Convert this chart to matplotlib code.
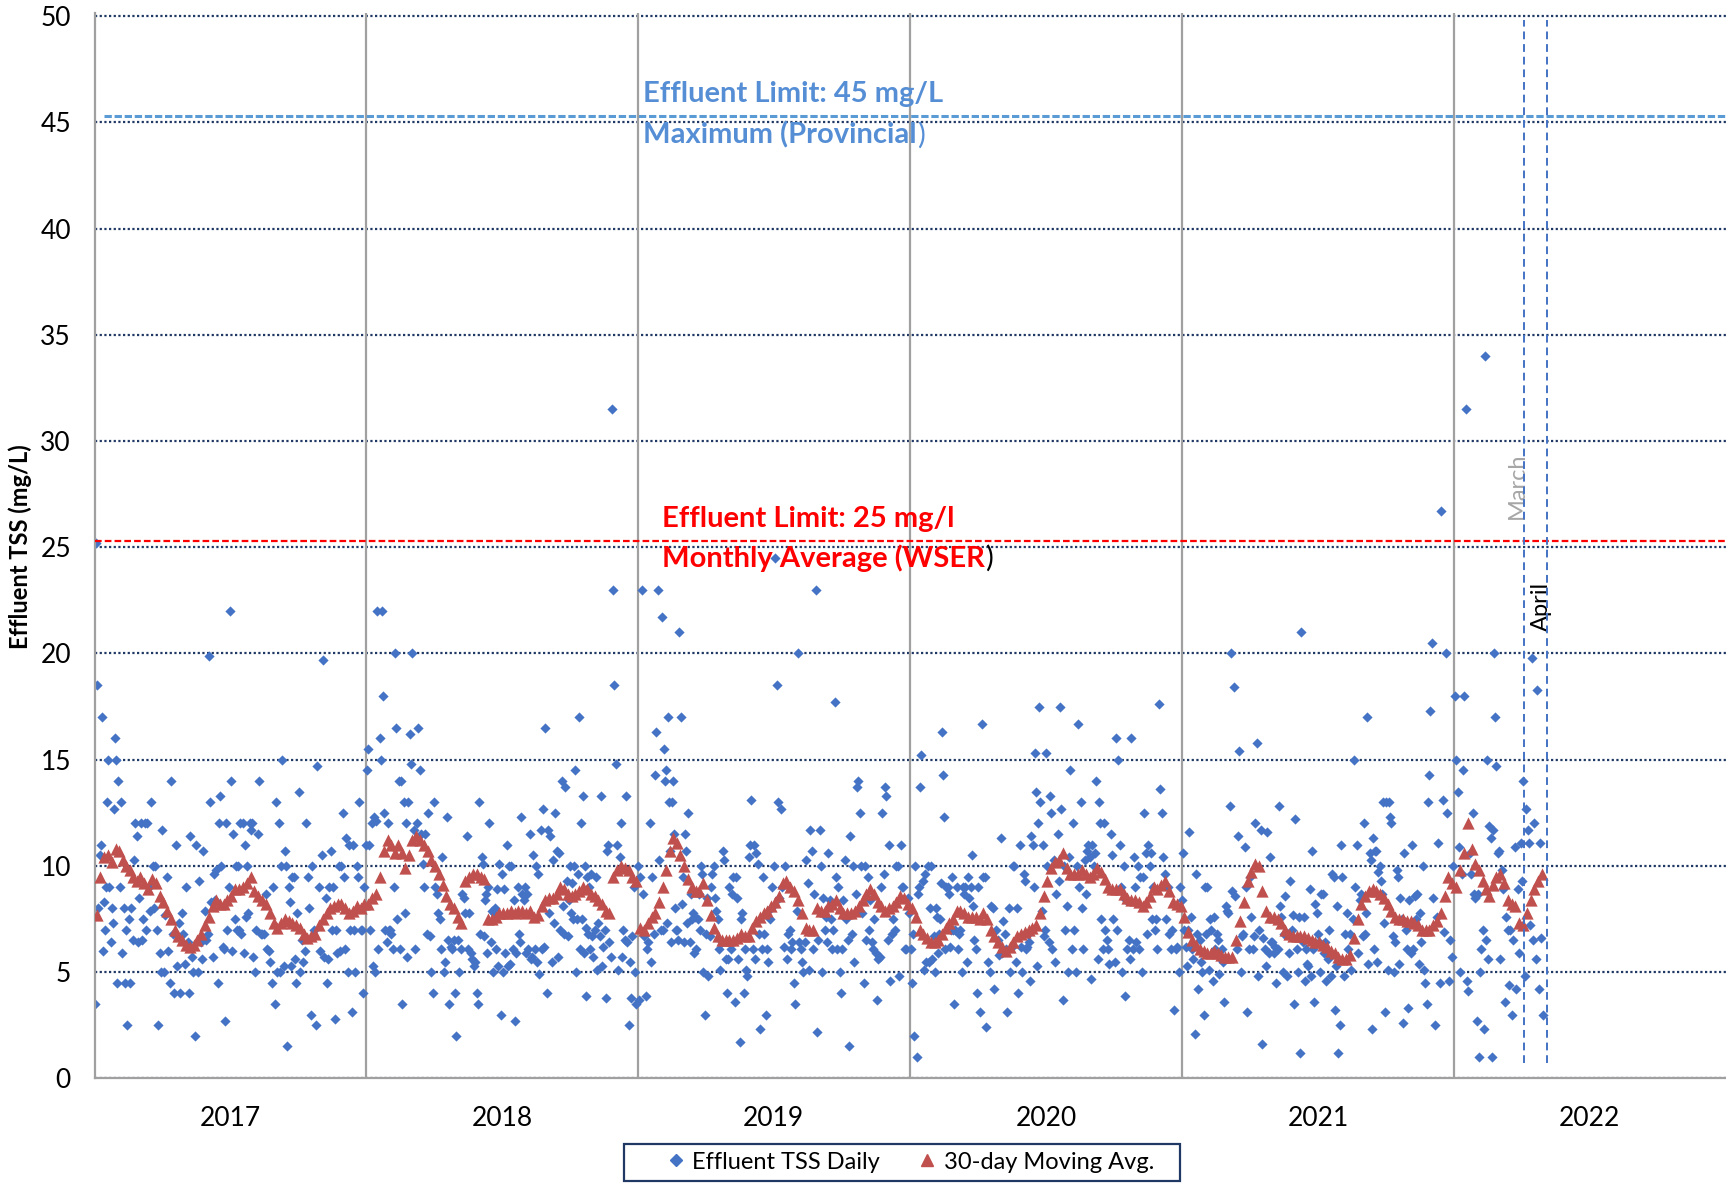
import numpy as np
import pandas as pd
import matplotlib
matplotlib.use("Agg")
import matplotlib.pyplot as plt
from matplotlib.lines import Line2D
from matplotlib.patches import Rectangle

plt.rcParams['font.family'] = ['Lato', 'DejaVu Sans']

# Daily effluent TSS (mg/L), one list per month, values in order of sampling
tss_2017 = [
    [3.5, 25.2, 18.5, 8.0, 10.5, 11.0, 17.0, 6.0, 8.3, 7.0, 9.0, 13.0, 15.0, 9.0, 6.4, 8.0, 7.3, 12.7, 16.0, 15.0, 4.5],
    [14.0, 9.0, 13.0, 5.9, 8.0, 4.5, 7.0, 2.5, 7.5, 4.5, 8.0, 6.5, 10.3, 12.0, 11.4, 6.4],
    [8.5, 12.0, 6.5, 7.5, 12.0, 7.0, 12.0, 9.0, 7.9, 13.0, 10.0, 8.0, 10.0, 7.0, 2.5, 5.9, 5.0],
    [11.7, 5.0, 7.7, 9.5, 6.0, 4.5, 14.0, 6.8, 4.0, 11.0, 5.3, 7.3, 4.0, 7.8, 6.8],
    [5.4, 9.0, 6.4, 4.0, 11.4, 5.7, 5.0, 2.0, 11.0, 5.0, 9.3, 6.4, 5.6, 10.7, 7.9, 6.5],
    [6.8, 19.9, 13.0, 8.3, 5.7, 9.6, 8.4, 9.8, 4.5, 12.0, 13.3, 10.0, 6.2, 6.1, 2.7, 12.0, 7.0, 9.0],
    [22.0, 14.0, 6.0, 11.5, 7.5, 10.0, 7.0, 10.0, 7.0, 12.0, 6.8, 12.0, 5.9, 11.0, 7.6, 10.0, 7.8, 12.0, 11.7, 12.0],
    [5.7, 5.0, 7.0, 11.5, 14.0, 6.8, 6.8, 6.8, 8.7, 6.1, 6.0, 5.5, 4.5, 9.0, 3.5],
    [13.0, 5.0, 12.0, 5.0, 10.0, 15.0, 5.3, 10.7, 10.0, 1.5, 9.0, 8.3, 5.3, 9.5, 9.5, 5.6, 4.5, 7.8],
    [13.5, 5.0, 6.5, 5.5, 6.0, 12.0, 9.5, 8.0, 3.0, 10.0, 7.0, 2.5, 14.7, 9.0, 6.0],
    [10.5, 19.7, 5.7, 8.5, 4.5, 5.6, 9.0, 10.7, 7.0, 9.0, 2.8, 7.0, 5.9, 10.0, 6.0, 10.0, 12.5],
    [9.5, 6.1, 11.3, 5.0, 11.0, 7.0, 3.1, 11.0, 7.0, 5.0, 10.0, 9.5, 13.0, 7.0, 7.0, 4.0, 9.0, 11.0],
]
tss_2018 = [
    [14.5, 15.5, 11.0, 7.0, 12.0, 5.3, 12.3, 5.0, 12.1, 22.0, 6.1, 16.0, 15.0, 22.0, 18.0, 12.5, 7.0, 6.4, 12.0, 7.0],
    [7.0, 6.8, 6.1, 9.0, 20.0, 16.5, 7.5, 14.0, 6.1, 14.0, 3.5, 13.0, 7.8, 12.0, 5.7, 13.0, 16.2],
    [14.8, 20.0, 11.7, 6.1, 12.0, 16.5, 14.5, 11.5, 10.1, 9.0, 11.5, 6.8, 12.5, 6.7, 5.0, 4.0],
    [13.0, 9.0, 8.7, 7.8, 7.5, 6.1, 10.4, 5.0, 5.5, 12.3, 6.5, 3.5, 6.2, 6.1, 6.5, 4.0],
    [2.0, 6.5, 5.0, 6.1, 8.7, 8.5, 7.8, 11.4, 6.1, 7.8, 5.9, 5.6, 5.3, 5.5, 4.0, 3.5],
    [13.0, 6.8, 10.4, 10.1, 6.7, 8.4, 8.7, 5.9, 9.0, 12.0, 6.4, 7.9, 5.0, 7.8, 8.0, 6.1, 8.9, 5.3, 10.1, 3.0],
    [9.6, 5.0, 8.9, 5.9, 11.0, 5.3, 10.0, 5.4, 10.0, 6.1, 8.4, 2.7, 5.9, 9.0, 6.8, 6.4, 12.3, 8.7, 8.4],
    [9.0, 5.9, 8.7, 6.1, 11.5, 5.6, 5.7, 10.5, 6.1, 10.0, 5.5, 9.6, 4.9, 11.7, 6.1, 12.7, 6.2, 16.5, 4.0],
    [11.7, 7.8, 11.4, 5.5, 10.3, 7.3, 12.5, 10.7, 5.7, 10.6, 7.0, 14.0, 8.1, 6.8, 13.7, 9.3, 6.7, 8.4],
    [10.0, 7.8, 9.2, 7.5, 10.0, 14.5, 5.0, 7.5, 9.6, 17.0, 6.1, 12.0, 7.5, 13.3, 5.9, 10.0, 7.1, 3.9, 9.5, 6.8, 9.0, 6.1, 9.6, 6.7],
    [5.7, 7.0, 9.5, 5.1, 7.3, 6.7, 13.3, 5.3, 6.2, 7.0, 3.8, 10.7, 11.0, 6.4, 5.7, 31.5, 23.0, 18.5],
    [14.8, 11.0, 5.1, 10.4, 12.0, 5.7, 7.0, 6.5, 13.3, 6.4, 2.5, 5.5, 3.8, 6.7, 9.0, 5.0, 3.5, 10.0],
]
tss_2019 = [
    [3.7, 9.5, 23.0, 8.7, 6.7, 3.9, 6.1, 6.4, 12.0, 5.5, 9.5, 6.8, 14.3, 16.3, 23.0, 10.3, 7.0],
    [21.7, 7.0, 15.5, 14.0, 14.5, 7.3, 17.0, 13.0, 10.7, 6.4, 13.0, 14.0, 11.5, 8.0, 7.0, 7.0, 6.5, 21.0, 17.0, 8.2],
    [9.5, 6.4, 11.5, 10.7, 7.3, 12.5, 6.4, 8.7, 7.5, 7.8, 5.9, 7.6, 6.1, 7.5, 8.7, 7.0, 10.0, 9.6, 5.0, 3.0],
    [6.8, 8.5, 4.8, 6.7, 9.0, 9.6, 10.0, 8.5, 7.9, 7.5, 6.1, 5.1, 6.4, 10.7, 10.3, 5.6, 4.0],
    [5.6, 9.0, 6.1, 8.7, 9.5, 3.6, 9.5, 8.5, 5.6, 1.7, 7.5, 7.8, 4.0, 6.1, 5.1, 4.8, 10.4, 11.0],
    [13.1, 6.1, 11.0, 5.6, 10.6, 10.1, 6.8, 2.3, 6.1, 9.5, 6.8, 3.0, 6.1, 5.5, 7.5, 8.0, 9.0],
    [10.0, 24.5, 18.5, 13.0, 8.5, 12.7, 9.0, 6.2, 10.0, 5.6, 6.8, 7.0, 6.1, 6.4, 4.5, 3.5],
    [7.9, 20.0, 6.4, 6.1, 5.5, 5.0, 6.4, 10.3, 9.2, 5.1, 11.7, 10.7, 6.1, 8.7, 23.0, 2.2, 6.5],
    [11.7, 10.0, 5.0, 8.5, 7.0, 7.6, 6.4, 10.6, 8.4, 7.5, 6.1, 7.0, 17.7, 9.5, 6.1, 9.0, 5.0, 4.0],
    [6.1, 8.4, 10.3, 7.5, 6.5, 1.5, 11.4, 6.8, 10.0, 5.5, 8.7, 13.7, 14.0, 12.5, 10.0, 7.8, 4.5],
    [10.0, 6.5, 9.5, 7.0, 8.4, 6.4, 6.1, 7.5, 5.9, 3.7, 5.6, 5.7, 9.0, 12.5, 9.6, 13.7, 13.3],
    [6.5, 11.0, 4.6, 6.8, 7.5, 7.0, 10.0, 10.0, 4.8, 11.0, 9.0, 9.0, 6.1, 6.1, 8.5, 7.8],
]
tss_2020 = [
    [6.1, 4.5, 6.8, 2.0, 10.0, 1.0, 8.7, 9.0, 13.7, 15.2, 9.3, 5.1, 9.6, 5.5, 10.0, 5.5, 8.0, 10.0, 5.6],
    [6.7, 5.0, 8.0, 7.6, 5.9, 6.8, 7.5, 9.2, 16.3, 14.3, 12.3, 6.1, 9.0, 9.0, 8.7, 6.2, 7.0, 9.5, 7.0, 3.5],
    [7.0, 9.0, 6.1, 6.8, 7.0, 5.0, 9.0, 8.7, 9.0, 5.5, 9.5, 8.5, 9.0, 10.5, 8.1, 6.5, 6.1, 4.0],
    [9.0, 3.1, 16.7, 9.5, 9.5, 2.4, 5.5, 5.0, 8.1, 8.0, 4.2, 7.0, 6.5, 5.8],
    [11.3, 5.9, 7.4, 6.8, 6.1, 3.1, 8.0, 5.0, 6.2, 10.0, 10.0, 5.5, 8.0, 4.0, 11.0, 6.2, 5.0],
    [9.6, 9.3, 6.1, 6.2, 6.8, 6.4, 4.6, 11.4, 11.0, 9.0, 15.3, 13.5, 5.3, 12.0, 17.5, 13.0, 7.9, 11.0, 6.7, 7.0],
    [15.3, 10.0, 6.4, 13.3, 12.5, 6.1, 10.3, 5.5, 8.7, 11.5, 9.3, 17.5, 12.7, 3.7, 10.0, 7.0, 8.1, 5.0],
    [10.4, 14.5, 6.1, 12.0, 7.0, 5.0, 10.0, 16.7, 9.0, 13.0, 8.0, 6.1, 10.3, 8.7, 10.7, 11.0, 10.4, 4.7],
    [11.0, 10.0, 10.6, 14.0, 5.6, 13.0, 12.0, 7.5, 6.1, 12.0, 7.0, 6.5, 6.1, 5.4, 11.5, 10.5, 7.5],
    [5.5, 16.0, 7.0, 15.0, 11.0, 9.0, 5.0, 10.0, 3.9, 8.4, 6.1, 6.5, 5.6, 16.0, 6.1, 10.4, 9.0, 6.4],
    [10.0, 6.1, 9.5, 5.0, 9.5, 12.5, 10.6, 6.8, 11.0, 10.0, 10.6, 7.5, 9.0, 7.0, 7.5, 6.1, 17.6],
    [13.6, 12.5, 10.4, 9.6, 7.5, 9.0, 6.8, 6.1, 7.0, 3.2, 6.1, 6.2, 5.0, 9.0, 8.4],
]
tss_2021 = [
    [10.6, 7.0, 6.2, 5.3, 7.0, 11.6, 7.6, 6.1, 5.6, 2.1, 9.6, 6.8, 4.2, 6.5, 5.5, 5.0, 3.0, 9.0],
    [6.8, 9.0, 5.1, 7.5, 7.0, 4.6, 7.6, 6.1, 6.8, 6.5, 4.9, 5.6, 6.1, 5.5, 3.6, 8.1],
    [7.9, 7.8, 12.8, 20.0, 8.8, 18.4, 8.6, 6.1, 11.4, 15.4, 5.0, 6.7, 6.8, 10.9, 9.0, 3.1, 6.1],
    [9.5, 7.6, 6.1, 6.7, 12.0, 15.8, 4.8, 7.0, 11.7, 1.6, 6.6, 6.1, 5.3, 11.6, 5.9, 10.4, 6.4],
    [6.4, 5.9, 6.2, 4.5, 6.1, 12.8, 8.1, 7.6, 5.0, 6.8, 8.6, 4.8, 6.8, 5.9, 9.3, 7.0, 7.7, 3.5],
    [12.2, 6.1, 5.0, 7.6, 1.2, 21.0, 6.4, 7.6, 4.6, 6.1, 5.4, 5.3, 8.9, 4.8, 10.7, 6.1, 3.6, 8.2, 7.8],
    [6.8, 6.4, 5.0, 8.7, 8.7, 5.9, 6.4, 4.6, 5.6, 7.0, 5.9, 4.8, 9.6, 9.5, 3.2, 5.3, 8.1, 1.2, 2.5],
    [11.0, 9.5, 4.8, 6.8, 7.8, 6.1, 6.8, 5.1, 7.5, 15.0, 9.0, 11.0, 5.9, 8.4, 8.7, 6.7],
    [12.0, 6.8, 7.8, 17.0, 5.4, 10.6, 10.3, 2.3, 11.3, 6.1, 10.7, 10.7, 5.5, 9.7, 10.0, 9.3, 8.7, 13.0, 7.3, 3.1],
    [13.0, 5.1, 13.0, 12.3, 12.0, 6.7, 5.0, 6.4, 9.8, 9.5, 5.4, 8.5, 7.5, 2.6, 10.6, 7.0, 6.1, 3.3],
    [8.4, 5.9, 11.0, 6.1, 8.6, 7.5, 8.7, 5.4, 7.8, 6.4, 10.0, 5.1, 4.5, 3.5, 13.0, 14.3, 17.3],
    [20.5, 8.5, 2.5, 7.6, 11.1, 4.5, 26.7, 13.1, 6.9, 20.0, 12.5, 4.6, 6.5, 5.7, 10.0],
]
tss_2022 = [
    [18.0, 15.0, 13.5, 10.9, 5.0, 9.6, 14.5, 18.0, 31.5, 4.6, 4.1, 10.6, 9.6, 12.5, 8.7, 8.5, 2.7],
    [8.7, 1.0, 5.0, 6.1, 7.0, 2.3, 34.0, 6.5, 15.0, 5.6, 11.9, 11.3, 1.0, 11.7, 20.0, 17.0, 14.7, 10.6],
    [10.7, 5.6, 9.8, 8.9, 3.6, 7.6, 7.0, 4.4, 7.0, 3.0, 6.5, 10.9, 4.2, 8.9, 5.9, 11.1],
    [9.3, 14.0, 4.8, 12.7, 11.7, 11.1, 7.2, 19.8, 6.5, 12.0, 5.6, 18.3, 4.2, 11.1, 6.6, 3.0],
]

# 30-day moving average (mg/L), ~5-day steps, one list per month
ma_2017 = [
    [7.7, 9.5, 10.4, 10.5, 10.2, 10.8], [10.7, 10.3, 10.0, 9.8, 9.5, 9.3],
    [9.5, 9.2, 8.9, 9.4, 9.2, 8.6], [8.3, 7.9, 7.5, 7.0, 6.7, 6.5],
    [6.3, 6.2, 6.3, 6.5, 6.8, 7.2], [7.6, 8.1, 8.4, 8.2, 8.2, 8.4],
    [8.6, 8.9, 8.9, 9.0, 9.2, 9.5], [8.8, 8.6, 8.4, 8.2, 7.8, 7.3],
    [7.1, 7.3, 7.5, 7.4, 7.3, 7.2], [7.1, 6.8, 6.6, 6.7, 6.8, 7.2],
    [7.5, 7.8, 8.0, 8.1, 8.2, 8.2], [8.0, 7.8, 7.9, 8.1, 8.0, 8.2],
]
ma_2018 = [
    [8.2, 8.5, 8.7, 9.5, 10.7, 11.2], [11.0, 10.6, 11.0, 10.6, 9.9, 10.5],
    [11.2, 11.4, 11.2, 11.0, 10.7, 10.3], [10.0, 9.6, 9.1, 8.6, 8.2, 8.0],
    [7.6, 7.3, 9.3, 9.5, 9.6, 9.6], [9.5, 9.4, 7.5, 7.5, 7.6, 7.8],
    [7.8, 7.8, 7.9, 7.8, 7.9, 7.9], [7.8, 7.9, 7.6, 7.7, 8.1, 8.4],
    [8.5, 8.5, 8.7, 9.0, 8.9, 8.7], [8.6, 8.7, 8.8, 9.0, 8.9, 8.7],
    [8.6, 8.4, 8.2, 7.9, 7.8, 9.5], [9.8, 10.0, 9.9, 9.8, 9.5, 9.3],
]
ma_2019 = [
    [7.1, 7.0, 7.3, 7.6, 7.8, 8.3], [9.0, 9.8, 10.7, 11.3, 11.1, 10.5],
    [10.0, 9.4, 9.0, 8.8, 8.8, 9.2], [8.4, 7.7, 7.1, 6.7, 6.5, 6.5],
    [6.5, 6.5, 6.6, 6.8, 6.7, 6.7], [7.1, 7.4, 7.6, 7.8, 7.9, 8.1],
    [8.3, 8.6, 9.2, 9.3, 9.0, 8.8], [8.4, 7.8, 7.1, 7.0, 7.0, 8.0],
    [7.9, 7.9, 8.1, 8.2, 8.4, 8.0], [7.8, 7.8, 7.8, 7.9, 8.1, 8.4],
    [8.7, 8.9, 8.7, 8.3, 8.1, 7.9], [8.0, 8.1, 8.3, 8.6, 8.5, 8.2],
]
ma_2020 = [
    [8.0, 7.6, 7.0, 6.8, 6.6, 6.4], [6.4, 6.5, 6.8, 7.1, 7.3, 7.5],
    [7.9, 7.9, 7.8, 7.6, 7.6, 7.6], [7.5, 7.8, 7.5, 7.0, 6.7, 6.4],
    [6.2, 6.0, 6.2, 6.4, 6.7, 6.8], [6.9, 7.0, 7.1, 7.2, 7.8, 8.6],
    [9.3, 9.9, 10.2, 10.3, 10.6, 9.9], [9.6, 9.6, 9.6, 9.8, 9.6, 9.5],
    [9.6, 9.9, 9.7, 9.4, 9.0, 8.9], [8.9, 8.9, 8.7, 8.5, 8.4, 8.4],
    [8.3, 8.1, 8.3, 8.6, 9.0, 8.9], [9.1, 9.3, 8.8, 8.3, 8.2, 8.1],
]
ma_2021 = [
    [7.6, 6.9, 6.5, 6.3, 6.1, 6.0], [5.9, 5.9, 6.0, 5.9, 5.8, 5.7],
    [5.7, 5.7, 6.5, 7.4, 8.3, 9.3], [9.7, 10.1, 10.0, 8.8, 7.9, 7.6],
    [7.6, 7.5, 7.3, 7.0, 6.8, 6.7], [6.7, 6.7, 6.7, 6.6, 6.5, 6.4],
    [6.4, 6.3, 6.2, 6.0, 5.9, 5.7], [5.6, 5.6, 5.8, 6.6, 7.5, 8.2],
    [8.6, 8.8, 8.9, 8.8, 8.7, 8.5], [8.2, 7.9, 7.6, 7.5, 7.5, 7.4],
    [7.4, 7.3, 7.2, 7.0, 7.0, 7.0], [7.2, 7.4, 7.8, 8.6, 9.5, 9.2],
]
ma_2022 = [
    [9.0, 9.8, 10.6, 12.0, 10.8, 10.1], [9.8, 9.3, 8.9, 8.6, 9.1, 9.5],
    [9.6, 9.2, 8.4, 8.2, 8.1, 7.3], [7.2, 7.8, 8.4, 8.9, 9.3, 9.6],
]

years = [2017, 2018, 2019, 2020, 2021, 2022]
tss_by_year = dict(zip(years, [tss_2017, tss_2018, tss_2019, tss_2020, tss_2021, tss_2022]))
ma_by_year = dict(zip(years, [ma_2017, ma_2018, ma_2019, ma_2020, ma_2021, ma_2022]))

max_limit = 45      # mg/L, provincial maximum
wser_limit = 25     # mg/L, WSER monthly average
month_marks = {'March': '2022-04-05', 'April': '2022-05-06'}


def expand(by_year):
    # spread each month's samples over the days of that month
    dates, vals = [], []
    for year, months in by_year.items():
        for m, vs in enumerate(months):
            start = pd.Timestamp(year, m + 1, 1)
            ndays = start.days_in_month
            for i, v in enumerate(vs):
                dates.append(start + pd.Timedelta(days=(i + 0.5) * ndays / len(vs)))
                vals.append(v)
    return pd.to_datetime(dates), np.array(vals)


tss_dates, tss_vals = expand(tss_by_year)
ma_dates, ma_vals = expand(ma_by_year)

blue = '#4472C4'
red = '#C0504D'
navy = '#1F3864'
grey = '#A0A0A0'
limit_blue = '#558ED5'

x0 = pd.Timestamp('2017-01-01')
x1 = pd.Timestamp('2023-01-01')

fig = plt.figure(figsize=(17.26, 11.85), dpi=100)
ax = fig.add_axes([0.0548, 0.090, 0.9452, 0.899])

ax.scatter(tss_dates, tss_vals, marker='D', s=27, color=blue, linewidths=0, zorder=3)
ax.scatter(ma_dates, ma_vals, marker='^', s=78, color=red, linewidths=0, zorder=4)

# limit lines (drawn slightly above the gridline, as in the report)
ax.hlines(max_limit + 0.3, pd.Timestamp('2017-01-14'), x1, colors='#5B9BD5',
          linestyles=(0, (2.4, 0.9)), lw=2.2, zorder=5)
ax.hlines(wser_limit + 0.3, x0, x1, colors='#FF0000',
          linestyles=(0, (3.0, 1.4)), lw=1.6, zorder=5)

# year separators
for y in years[1:]:
    ax.axvline(pd.Timestamp(y, 1, 1), color=grey, lw=1.6, zorder=2)

# March / April markers
for name, d in month_marks.items():
    ax.vlines(pd.Timestamp(d), 0.7, 49.8, colors=blue, linestyles=(0, (4, 2.5)), lw=1.4, zorder=5)
ax.text(pd.Timestamp('2022-03-27'), 27.9, 'March', rotation=90, color='#A6A6A6',
        fontsize=17, ha='center', va='center')
ax.text(pd.Timestamp('2022-04-28'), 22.2, 'April', rotation=90, color='black',
        fontsize=17, ha='center', va='center')

# limit annotations
fs = 21
t = ax.text(pd.Timestamp('2019-01-08'), 46.33, f'Effluent Limit: {max_limit} mg/L',
            color=limit_blue, fontsize=fs, fontweight='bold', va='center', ha='left', zorder=6)
t = ax.text(pd.Timestamp('2019-01-08'), 44.42, 'Maximum (Provincial',
            color=limit_blue, fontsize=fs, fontweight='bold', va='center', ha='left', zorder=6)
ax.annotate(')', xy=(1, 0), xycoords=t, ha='left', va='bottom', color=limit_blue, fontsize=fs)

t = ax.text(pd.Timestamp('2019-02-02'), 26.34, f'Effluent Limit: {wser_limit} mg/l',
            color='#FF0000', fontsize=fs, fontweight='bold', va='center', ha='left', zorder=6)
t = ax.text(pd.Timestamp('2019-02-02'), 24.48, 'Monthly Average (WSER',
            color='#FF0000', fontsize=fs, fontweight='bold', va='center', ha='left', zorder=6)
ax.annotate(')', xy=(1, 0), xycoords=t, ha='left', va='bottom', color='black', fontsize=fs)

# axes styling
ax.set_xlim(x0, x1)
ax.set_ylim(0, 50.15)
ax.set_yticks(range(0, 51, 5))
ax.yaxis.grid(True, linestyle=(0, (1, 1.1)), color=navy, lw=1.6, zorder=1)
ax.set_axisbelow(True)
ax.set_xticks([pd.Timestamp(y, 7, 2) for y in years])
ax.set_xticklabels([str(y) for y in years])
ax.tick_params(axis='x', length=0, pad=20, labelsize=19)
ax.tick_params(axis='y', length=0, pad=17, labelsize=19)
for s in ['top', 'right']:
    ax.spines[s].set_visible(False)
for s in ['left', 'bottom']:
    ax.spines[s].set_color(grey)
    ax.spines[s].set_linewidth(1.6)
    ax.spines[s].set_zorder(3)

fig.text(0.0116, 0.539, 'Effluent TSS (mg/L)', rotation=90, fontweight='bold',
         fontsize=17, va='center', ha='center')

# legend: frame drawn separately so the box can be wider than its content
handles = [Line2D([], [], marker='D', ls='none', color=blue, markersize=6.5),
           Line2D([], [], marker='^', ls='none', color=red, markersize=8)]
fig.legend(handles, ['Effluent TSS Daily', '30-day Moving Avg.'], loc='center',
           bbox_to_anchor=(0.5268, 0.0192), ncol=2, frameon=False,
           fontsize=17, handlelength=1.0, handletextpad=0.2, columnspacing=1.5)
fig.patches.append(Rectangle((0.3616, 0.0037), 0.3221, 0.0307, transform=fig.transFigure,
                             fill=False, edgecolor=navy, lw=1.6))

fig.savefig('out.png', dpi=100)
